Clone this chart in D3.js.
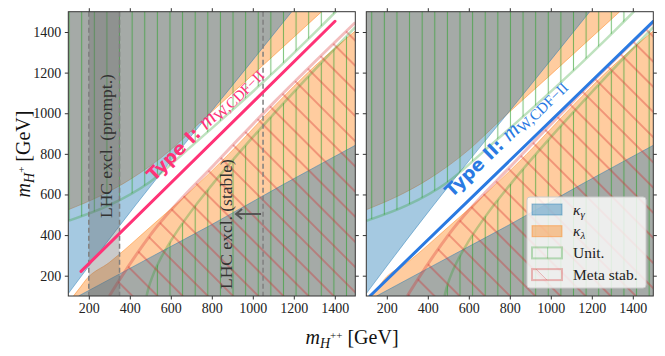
<!DOCTYPE html>
<html>
<head>
<meta charset="utf-8">
<script src="https://cdn.jsdelivr.net/npm/d3@7"></script>
<style>
  body { margin: 0; background: #fff; }
  text { font-family: "Liberation Serif", serif; }
</style>
</head>
<body>
<svg id="chart" width="665" height="356"></svg>
<script>
// all points are [m_H++, m_H+] in GeV
const massTicks = [200, 400, 600, 800, 1000, 1200, 1400];
const kgUpper = [[100, 112], [300, 380], [560, 715], [800, 1012], [1190, 1500]];
const kgLower = [[150, 100], [500, 290], [800, 452], [1150, 650], [1500, 842]];
const klUpper = [[100, 525], [250, 590], [400, 673], [600, 820], [742, 954], [1000, 1190], [1336, 1500]];
const klLower = [[125, 100], [160, 145], [186, 180], [300, 265], [500, 440], [700, 620],
                 [880, 796], [1100, 1030], [1300, 1230], [1500, 1405]];
const unitUpper = [[100, 470], [300, 547], [500, 663], [700, 837], [900, 1015], [1100, 1200],
                   [1300, 1395], [1405, 1500], [1420, 1515]];
const unitLower = [[482, 101], [490, 134], [500, 167], [520, 220], [550, 284], [600, 371],
                   [700, 518], [800, 646], [1000, 882], [1200, 1104], [1500, 1424]];
const metaLine = [[300, 100], [350, 180], [500, 400], [829, 765], [1100, 1050], [1500, 1447]];
const typeI = [[162, 221], [1401, 1453]];
const typeII = [[118, 100], [1500, 1452]];
const lhcPrompt = [200, 350];
const lhcStable = 1050;
const legendNames = ["κγ", "κλ", "Unit.", "Meta stab."];

const svg = d3.select("#chart");
const defs = svg.append("defs");

const yTop = 11.7, yBot = 296, pw = 287;
const blue = "#1f77b4", orange = "#ff7f0e", green = "#2ca02c", red = "#d62728";

// hatches, aligned on the page like matplotlib does
let hp = defs.append("pattern").attr("id", "hatchUnit")
    .attr("patternUnits", "userSpaceOnUse")
    .attr("x", 81.7 - 6.3).attr("width", 12.61).attr("height", 10);
hp.append("line").attr("x1", 6.3).attr("x2", 6.3).attr("y1", -1).attr("y2", 11)
    .attr("stroke", green).attr("stroke-opacity", 0.6).attr("stroke-width", 1.1);

const ds = 17.8;
hp = defs.append("pattern").attr("id", "hatchMeta")
    .attr("patternUnits", "userSpaceOnUse")
    .attr("width", ds).attr("height", ds)
    .attr("patternTransform", "rotate(-45)");
hp.append("line").attr("x1", ds / 2).attr("x2", ds / 2).attr("y1", -1).attr("y2", ds + 1)
    .attr("stroke", red).attr("stroke-opacity", 0.6).attr("stroke-width", 1.1);

let drawPanel = function(x0, typeName, typeLine, typeColor, first){
    const x = d3.scaleLinear().domain([100, 1500]).range([x0, x0 + pw]);
    const y = d3.scaleLinear().domain([100, 1500]).range([yBot, yTop]);
    const clipId = "clip" + typeName;
    defs.append("clipPath").attr("id", clipId)
        .append("rect").attr("x", x0).attr("y", yTop).attr("width", pw).attr("height", yBot - yTop);

    const g = svg.append("g").attr("clip-path", `url(#${clipId})`);
    const curve = d3.line().x(d => x(d[0])).y(d => y(d[1])).curve(d3.curveMonotoneX);
    const region = (pts, corner) => curve(pts) + `L${x(corner[0])},${y(corner[1])}Z`;

    // kappa_lambda below, kappa_gamma on top: overlap turns grey
    [[klUpper, [100, 1500]], [klLower, [1500, 100]]].forEach(r => {
        g.append("path").attr("d", region(r[0], r[1])).attr("fill", orange).attr("fill-opacity", 0.4);
        g.append("path").attr("d", curve(r[0])).attr("fill", "none")
            .attr("stroke", orange).attr("stroke-opacity", 0.45).attr("stroke-width", 1);
    });
    [[kgUpper, [100, 1500]], [kgLower, [1500, 100]]].forEach(r => {
        g.append("path").attr("d", region(r[0], r[1])).attr("fill", blue).attr("fill-opacity", 0.4);
        g.append("path").attr("d", curve(r[0])).attr("fill", "none")
            .attr("stroke", blue).attr("stroke-opacity", 0.45).attr("stroke-width", 1);
    });

    // unitarity
    [[unitUpper, [100, 1500]], [unitLower, [1500, 100]]].forEach(r => {
        g.append("path").attr("d", region(r[0], r[1])).attr("fill", "url(#hatchUnit)");
        g.append("path").attr("d", curve(r[0])).attr("fill", "none")
            .attr("stroke", green).attr("stroke-opacity", 0.3).attr("stroke-width", 2.5);
    });

    // meta stability
    g.append("path").attr("d", region(metaLine, [1500, 100])).attr("fill", "url(#hatchMeta)");
    g.append("path").attr("d", curve(metaLine)).attr("fill", "none")
        .attr("stroke", red).attr("stroke-opacity", 0.3).attr("stroke-width", 3);

    if(first){
        g.append("rect")
            .attr("x", x(lhcPrompt[0])).attr("y", yTop)
            .attr("width", x(lhcPrompt[1]) - x(lhcPrompt[0])).attr("height", yBot - yTop)
            .attr("fill", "#666").attr("fill-opacity", 0.35);
        [lhcPrompt[0], lhcPrompt[1], lhcStable].forEach(v => {
            g.append("line").attr("x1", x(v)).attr("x2", x(v)).attr("y1", yTop).attr("y2", yBot)
                .attr("stroke", "#7f7f7f").attr("stroke-width", 1.5).attr("stroke-dasharray", "5,3");
        });
    }

    // W mass line
    g.append("path").attr("d", d3.line().x(d => x(d[0])).y(d => y(d[1]))(typeLine))
        .attr("fill", "none").attr("stroke", typeColor).attr("stroke-width", 3)
        .attr("stroke-linecap", "round");

    // label along the line
    const p0 = typeLine[0], p1 = typeLine[typeLine.length - 1];
    const ang = Math.atan2(y(p1[1]) - y(p0[1]), x(p1[0]) - x(p0[0])) * 180 / Math.PI;
    const lx = first ? 154 : 452, ly = first ? 182 : 198;
    const lab = svg.append("text")
        .attr("transform", `translate(${lx},${ly}) rotate(${ang})`)
        .attr("fill", typeColor);
    lab.append("tspan").attr("font-family", "DejaVu Sans").attr("font-weight", "bold")
        .attr("font-size", 18).text(`Type ${typeName}: `);
    lab.append("tspan").attr("font-style", "italic").attr("font-size", 22).text("m");
    lab.append("tspan").attr("font-size", 15).attr("dy", 3).text("W,CDF−II");

    // frame and ticks
    svg.append("rect").attr("x", x0).attr("y", yTop).attr("width", pw).attr("height", yBot - yTop)
        .attr("fill", "none").attr("stroke", "#333").attr("stroke-width", 1);

    const axes = [
        [d3.axisBottom(x), `translate(0,${yBot})`, true],
        [d3.axisTop(x), `translate(0,${yTop})`, false],
        [d3.axisLeft(y), `translate(${x0},0)`, first],
        [d3.axisRight(y), `translate(${x0 + pw},0)`, false]
    ];
    axes.forEach(a => {
        const ax = a[0].tickValues(massTicks).tickSize(3.5).tickPadding(3.5)
            .tickFormat(a[2] ? d3.format("d") : "");
        const ag = svg.append("g").attr("transform", a[1]).call(ax);
        ag.select(".domain").remove();
        ag.selectAll("line").attr("stroke", "#333");
        ag.selectAll("text").attr("font-family", "Liberation Serif").attr("font-size", 14).attr("fill", "#222");
    });
    return {x, y};
}

const left = drawPanel(68.3, "I", typeI, "#ff3377", true);
const right = drawPanel(366.3, "II", typeII, "#2a7ae2", false);

// LHC annotations
svg.append("text")
    .attr("transform", `translate(${(left.x(lhcPrompt[0]) + left.x(lhcPrompt[1])) / 2 + 8},218) rotate(-90)`)
    .attr("font-size", 17.5).attr("fill", "#333").text("LHC excl. (prompt.)");
svg.append("text")
    .attr("transform", `translate(232,289) rotate(-90)`)
    .attr("font-size", 17.5).attr("fill", "#333").text("LHC excl. (stable)");
const ax1 = left.x(lhcStable) - 2, ax2 = left.x(lhcStable) - 27;
svg.append("path")
    .attr("d", `M${ax1},214L${ax2},214M${ax2 + 6},209L${ax2},214L${ax2 + 6},219`)
    .attr("fill", "none").attr("stroke", "#555").attr("stroke-width", 2);

// axis labels
const yl = svg.append("text").attr("transform", "translate(30,154) rotate(-90)")
    .attr("text-anchor", "middle").attr("font-size", 20).attr("fill", "#111");
yl.append("tspan").attr("font-style", "italic").text("m");
yl.append("tspan").attr("font-style", "italic").attr("font-size", 14).attr("dy", 4).text("H");
yl.append("tspan").attr("font-size", 11).attr("dy", -9).text("+");
yl.append("tspan").attr("dy", 5).text(" [GeV]");

const xl = svg.append("text").attr("transform", "translate(352,344)")
    .attr("text-anchor", "middle").attr("font-size", 20).attr("fill", "#111");
xl.append("tspan").attr("font-style", "italic").text("m");
xl.append("tspan").attr("font-style", "italic").attr("font-size", 14).attr("dy", 4).text("H");
xl.append("tspan").attr("font-size", 11).attr("dy", -9).text("++");
xl.append("tspan").attr("dy", 5).text(" [GeV]");

// legend
const lg = svg.append("g").attr("transform", "translate(527,197)");
lg.append("rect").attr("width", 119).attr("height", 91).attr("rx", 3)
    .attr("fill", "#fff").attr("fill-opacity", 0.8).attr("stroke", "#ccc");
legendNames.forEach((name, i) => {
    const row = lg.append("g").attr("transform", `translate(5,${7 + i * 21.7})`);
    const r = row.append("rect").attr("width", 30).attr("height", 11);
    if(i === 0) r.attr("fill", blue).attr("fill-opacity", 0.4).attr("stroke", blue).attr("stroke-opacity", 0.45);
    if(i === 1) r.attr("fill", orange).attr("fill-opacity", 0.4).attr("stroke", orange).attr("stroke-opacity", 0.45);
    if(i === 2){
        r.attr("fill", "none").attr("stroke", green).attr("stroke-opacity", 0.3).attr("stroke-width", 2);
        row.append("line").attr("x1", 15.5).attr("x2", 15.5).attr("y1", 0).attr("y2", 11)
            .attr("stroke", green).attr("stroke-opacity", 0.3);
    }
    if(i === 3){
        r.attr("fill", "none").attr("stroke", red).attr("stroke-opacity", 0.3).attr("stroke-width", 2);
        row.append("line").attr("x1", 4).attr("x2", 15).attr("y1", 0).attr("y2", 11)
            .attr("stroke", red).attr("stroke-opacity", 0.3);
    }
    const t = row.append("text").attr("x", 41).attr("y", 10.5).attr("font-size", 15.5).attr("fill", "#222");
    if(i < 2){
        t.append("tspan").attr("font-style", "italic").text("κ");
        t.append("tspan").attr("font-style", "italic").attr("font-size", 11).attr("dy", 3).text(name[1]);
    } else {
        t.text(name);
    }
});
</script>
</body>
</html>
